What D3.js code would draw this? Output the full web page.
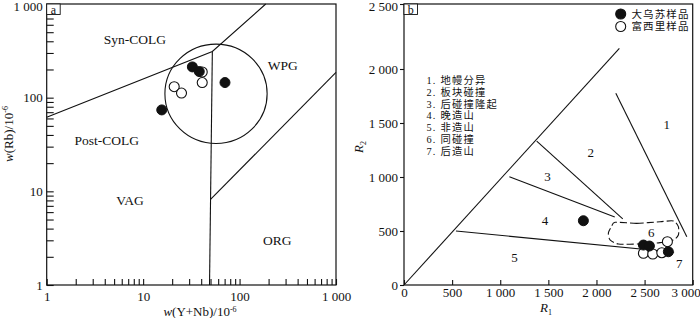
<!DOCTYPE html>
<html><head><meta charset="utf-8">
<script src="https://cdn.jsdelivr.net/npm/d3@7"></script>
<style>
body{margin:0;background:#fff}
svg{display:block}
text{font-family:"Liberation Serif","Times New Roman",serif;fill:#111}
.cjk{font-family:"Liberation Serif","Noto Sans CJK SC",serif}
</style>
</head><body>
<svg id="c" width="700" height="318"></svg>
<script>
// ---------- data ----------
const leftTickValues = [1, 10, 100, 1000];
const leftTickLabels = ["1", "10", "100", "1 000"];
const rightXTicks = [0, 500, 1000, 1500, 2000, 2500, 3000];
const rightXLabels = ["0", "500", "1 000", "1 500", "2 000", "2 500", "3 000"];
const rightYTicks = [0, 500, 1000, 1500, 2000, 2500];
const rightYLabels = ["0", "500", "1 000", "1 500", "2 000", "2 500"];

const seriesNames = ["大乌苏样品", "富西里样品"];
// left panel: [Y+Nb, Rb]
const leftFilled = [[32.4, 213], [38.2, 190], [70.6, 145], [15.6, 74]];
const leftOpen = [[41, 188], [41, 145], [21, 131], [25, 112]];
// right panel: [R1, R2]
const rightFilled = [[1864, 595], [2488, 370], [2550, 361], [2747, 308]];
const rightOpen = [[2737, 401], [2488, 294], [2585, 287], [2679, 299]];

const leftBoundaries = [
  [[1, 61.7], [52.2, 311], [186.7, 1000]],
  [[52.2, 311], [48.8, 1]],
  [[50, 8.2], [1000, 186]]
];
const leftCircleCenter = [57, 110];
const leftCircleRadiusDecades = 0.53;
const leftFieldNames = ["Syn-COLG", "WPG", "Post-COLG", "VAG", "ORG"];
const leftFieldPos = [[8.2, 421], [280, 224], [4.2, 34.9], [7.3, 8.0], [246, 3.0]];

const rightBoundaries = [
  [[0, 0], [2238, 2159]],
  [[1379, 1333], [2273, 612]],
  [[1095, 1003], [2190, 630]],
  [[2201, 1775], [2939, 447]],
  [[540, 500], [2807, 303]]
];
const zone6 = [[2193, 581], [2419, 571], [2661, 586], [2799, 593], [2851, 540], [2851, 463], [2799, 417],
  [2661, 392], [2453, 380], [2228, 380], [2141, 417], [2124, 484], [2159, 546]];
const zoneNames = ["1", "2", "3", "4", "5", "6", "7"];
const zonePos = [[2731, 1491], [1941, 1225], [1490, 1003], [1466, 602], [1147, 253], [2568, 491], [2859, 201]];
const zoneList = ["1. 地幔分异", "2. 板块碰撞", "3. 后碰撞隆起", "4. 晚造山", "5. 非造山", "6. 同碰撞", "7. 后造山"];

// ---------- drawing ----------
const svg = d3.select("#c");
const R = 5;

// ===== left panel =====
const xL = d3.scaleLog().domain([1, 1000]).range([46.7, 336]);
const yL = d3.scaleLog().domain([1, 1000]).range([285, 4]);
const gL = svg.append("g");

const minorDec = [];
[1, 10, 100].forEach(d => { for (let k = 2; k <= 9; k++) minorDec.push(d * k); });

gL.append("g").attr("class", "yax").attr("transform", `translate(${xL(1)},0)`)
  .call(d3.axisLeft(yL).tickValues(leftTickValues).tickFormat((d, i) => leftTickLabels[i]).tickSizeInner(-7).tickSizeOuter(0).tickPadding(4));
gL.append("g").attr("transform", `translate(${xL(1)},0)`)
  .call(d3.axisLeft(yL).tickValues(minorDec).tickFormat("").tickSizeInner(-7).tickSizeOuter(0));
gL.append("g").attr("transform", `translate(0,${yL(1)})`)
  .call(d3.axisBottom(xL).tickValues(leftTickValues).tickFormat((d, i) => leftTickLabels[i]).tickSizeInner(-6).tickSizeOuter(0).tickPadding(7));
gL.append("g").attr("transform", `translate(0,${yL(1)})`)
  .call(d3.axisBottom(xL).tickValues(minorDec).tickFormat("").tickSizeInner(-6).tickSizeOuter(0));

gL.selectAll(".domain").remove();
gL.selectAll(".tick line").attr("stroke", "#111").attr("stroke-width", 1.1);
gL.selectAll(".tick text").attr("font-size", 13).attr("fill", "#111");
gL.select(".yax").selectAll(".tick text").filter(d => d === 1000).attr("y", 2.5);

gL.append("rect").attr("x", xL(1)).attr("y", yL(1000)).attr("width", xL(1000) - xL(1)).attr("height", yL(1) - yL(1000))
  .attr("fill", "none").attr("stroke", "#111").attr("stroke-width", 1.2);

const lineL = d3.line().x(d => xL(d[0])).y(d => yL(d[1]));
gL.selectAll(".bnd").data(leftBoundaries).join("path")
  .attr("d", lineL).attr("fill", "none").attr("stroke", "#111").attr("stroke-width", 1.1);

const cx = xL(leftCircleCenter[0]), cy = yL(leftCircleCenter[1]);
gL.append("ellipse").attr("cx", cx).attr("cy", cy)
  .attr("rx", xL(leftCircleCenter[0] * Math.pow(10, leftCircleRadiusDecades)) - cx)
  .attr("ry", cy - yL(leftCircleCenter[1] * Math.pow(10, leftCircleRadiusDecades)))
  .attr("fill", "none").attr("stroke", "#111").attr("stroke-width", 1.1);

gL.selectAll(".fl").data(leftFieldNames).join("text")
  .attr("x", (d, i) => xL(leftFieldPos[i][0])).attr("y", (d, i) => yL(leftFieldPos[i][1]))
  .attr("dy", "0.35em").attr("text-anchor", "middle").attr("font-size", 13.5).text(d => d);

gL.selectAll(".po").data(leftOpen).join("circle")
  .attr("cx", d => xL(d[0])).attr("cy", d => yL(d[1])).attr("r", R)
  .attr("fill", "#fff").attr("stroke", "#111").attr("stroke-width", 1.1);
gL.selectAll(".pf").data(leftFilled).join("circle")
  .attr("cx", d => xL(d[0])).attr("cy", d => yL(d[1])).attr("r", R)
  .attr("fill", "#111").attr("stroke", "#111").attr("stroke-width", 1);

gL.append("rect").attr("x", xL(1)).attr("y", yL(1000)).attr("width", 13.5).attr("height", 10.5)
  .attr("fill", "#fff").attr("stroke", "#111").attr("stroke-width", 0.9);
gL.append("text").attr("x", xL(1) + 6.7).attr("y", yL(1000) + 9.5).attr("text-anchor", "middle").attr("font-size", 12).text("a");

const tx = gL.append("text").attr("x", 200).attr("y", 316).attr("text-anchor", "middle").attr("font-size", 13);
tx.append("tspan").attr("font-style", "italic").text("w");
tx.append("tspan").text("(Y+Nb)/10");
tx.append("tspan").attr("font-size", 8).attr("dy", -4.5).text("-6");

const ty = gL.append("text").attr("transform", "translate(13,134) rotate(-90)").attr("text-anchor", "middle").attr("font-size", 13);
ty.append("tspan").attr("font-style", "italic").text("w");
ty.append("tspan").text("(Rb)/10");
ty.append("tspan").attr("font-size", 8).attr("dy", -5).text("-6");

// ===== right panel =====
const xR = d3.scaleLinear().domain([0, 3000]).range([404, 692.7]);
const yR = d3.scaleLinear().domain([0, 2000, 2500]).range([285, 69, 4]);
const gR = svg.append("g");

gR.append("g").attr("class", "yax").attr("transform", `translate(${xR(0)},0)`)
  .call(d3.axisLeft(yR).tickValues(rightYTicks).tickFormat((d, i) => rightYLabels[i]).tickSizeInner(4).tickSizeOuter(0).tickPadding(2));
gR.append("g").attr("class", "xax").attr("transform", `translate(0,${yR(0)})`)
  .call(d3.axisBottom(xR).tickValues(rightXTicks).tickFormat((d, i) => rightXLabels[i]).tickSizeInner(-5).tickSizeOuter(0).tickPadding(2.5));
gR.selectAll(".domain").remove();
gR.selectAll(".tick line").attr("stroke", "#111").attr("stroke-width", 1.1);
gR.selectAll(".tick text").attr("font-size", 13).attr("fill", "#111");
gR.select(".yax").selectAll(".tick text").filter(d => d === 2500).attr("y", 2.5);
gR.select(".xax").selectAll(".tick text").filter(d => d === 3000).attr("x", -7);

gR.append("rect").attr("x", xR(0)).attr("y", yR(2500)).attr("width", xR(3000) - xR(0)).attr("height", yR(0) - yR(2500))
  .attr("fill", "none").attr("stroke", "#111").attr("stroke-width", 1.2);

const lineR = d3.line().x(d => xR(d[0])).y(d => yR(d[1]));
gR.selectAll(".bnd").data(rightBoundaries).join("path")
  .attr("d", lineR).attr("fill", "none").attr("stroke", "#111").attr("stroke-width", 1.1);
gR.append("path").datum(zone6)
  .attr("d", d3.line().x(d => xR(d[0])).y(d => yR(d[1])).curve(d3.curveCardinalClosed.tension(0.3)))
  .attr("fill", "none").attr("stroke", "#111").attr("stroke-width", 1.1).attr("stroke-dasharray", "7,3");

gR.selectAll(".zl").data(zoneNames).join("text")
  .attr("x", (d, i) => xR(zonePos[i][0])).attr("y", (d, i) => yR(zonePos[i][1]))
  .attr("dy", "0.35em").attr("text-anchor", "middle").attr("font-size", 13).text(d => d);

gR.selectAll(".po").data(rightOpen).join("circle")
  .attr("cx", d => xR(d[0])).attr("cy", d => yR(d[1])).attr("r", R)
  .attr("fill", "#fff").attr("stroke", "#111").attr("stroke-width", 1.1);
gR.selectAll(".pf").data(rightFilled).join("circle")
  .attr("cx", d => xR(d[0])).attr("cy", d => yR(d[1])).attr("r", R)
  .attr("fill", "#111").attr("stroke", "#111").attr("stroke-width", 1);

gR.selectAll(".zlist").data(zoneList).join("text")
  .attr("class", "cjk").attr("x", 426.5).attr("y", (d, i) => 80 + i * 11.9).attr("dy", "0.36em")
  .attr("font-size", 10.3).attr("letter-spacing", 1.2).text(d => d);

const lg = gR.append("g");
[0, 1].forEach(i => {
  lg.append("circle").attr("cx", 620.7).attr("cy", 14 + i * 12.5).attr("r", R)
    .attr("fill", i === 0 ? "#111" : "#fff").attr("stroke", "#111").attr("stroke-width", 1.1);
  lg.append("text").attr("class", "cjk").attr("x", 631.5).attr("y", 14 + i * 12.5).attr("dy", "0.36em")
    .attr("font-size", 10.5).attr("letter-spacing", 1.1).text(seriesNames[i]);
});

gR.append("rect").attr("x", xR(0)).attr("y", yR(2500)).attr("width", 13.5).attr("height", 10.5)
  .attr("fill", "#fff").attr("stroke", "#111").attr("stroke-width", 0.9);
gR.append("text").attr("x", xR(0) + 6.7).attr("y", yR(2500) + 9.5).attr("text-anchor", "middle").attr("font-size", 12).text("b");

const rx1 = gR.append("text").attr("x", 546).attr("y", 311.5).attr("text-anchor", "middle").attr("font-size", 13);
rx1.append("tspan").attr("font-style", "italic").text("R");
rx1.append("tspan").attr("font-size", 8).attr("dy", 3).text("1");
const ry2 = gR.append("text").attr("transform", "translate(363,147) rotate(-90)").attr("text-anchor", "middle").attr("font-size", 13);
ry2.append("tspan").attr("font-style", "italic").text("R");
ry2.append("tspan").attr("font-size", 8).attr("dy", 3).text("2");
</script>
</body></html>
